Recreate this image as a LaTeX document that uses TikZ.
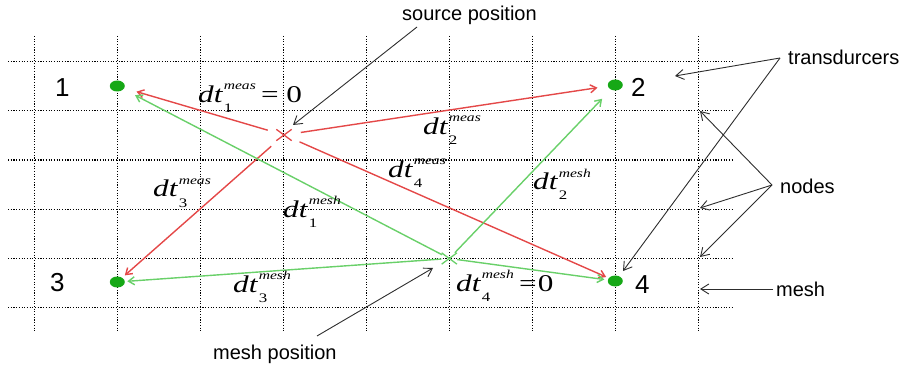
\documentclass[tikz,border=0pt]{standalone}
\usepackage{fontspec}
\setmainfont{Liberation Serif}
\newfontfamily\lsans{Liberation Sans}
\usetikzlibrary{arrows.meta,shapes.misc,shapes.geometric}

\definecolor{redl}{RGB}{228,72,72}
\definecolor{greenl}{RGB}{105,208,105}
\definecolor{dotg}{RGB}{22,168,22}
\definecolor{annot}{RGB}{45,45,45}

% dt label: sub #1, sup #2, trailing material #3 (all stretched horizontally)
\newcommand{\dtlab}[3]{\scalebox{1.3}[1]{{\fontsize{24}{24}\selectfont\itshape dt}\kern1pt\rlap{\raisebox{-10pt}{\fontsize{13}{13}\selectfont #1}}\raisebox{13pt}{\fontsize{12}{12}\selectfont\itshape #2}{\fontsize{24}{24}\selectfont #3}}}

\tikzset{
  gridline/.style={line width=1.2pt, dash pattern=on 1.1pt off 1.6pt, black},
  tdot/.style={ellipse, fill=dotg, minimum width=15pt, minimum height=11pt, inner sep=0pt},
  numlab/.style={font=\lsans\fontsize{26}{26}\selectfont, anchor=base west, inner sep=0pt},
  annlab/.style={font=\lsans\fontsize{20}{20}\selectfont, anchor=base west, inner sep=0pt},
  mathlab/.style={anchor=base west, inner sep=0pt},
  redarrow/.style={draw=redl, line width=1.4pt, -{Straight Barb[length=6pt,width=8pt]}},
  greenarrow/.style={draw=greenl, line width=1.4pt, -{Straight Barb[length=6pt,width=8pt]}},
  annarrow/.style={draw=annot, line width=0.9pt, -{Straight Barb[length=8pt,width=10pt]}},
  crossmark/.style={cross out, draw=#1, line width=1.3pt, minimum width=14pt, minimum height=10pt, inner sep=0pt}
}

\begin{document}
\begin{tikzpicture}[x=1pt,y=-1pt]
\useasboundingbox (0,0) rectangle (905,366);

% mesh grid
\foreach \x in {34.3,117.3,200.3,283.3,366.3,449.3,532.3,615.3,698.3}
  \draw[gridline] (\x,36) -- (\x,331);
\foreach \y in {61.7,110.9,160.1,209.3,258.5,307.7}
  \draw[gridline] (8,\y) -- (733,\y);

% transducers
\node[tdot] (t1) at (117.3,86) {};
\node[tdot] (t2) at (615.3,85) {};
\node[tdot] (t3) at (117.3,282) {};
\node[tdot] (t4) at (615.3,281) {};

\node[numlab] (n1) at (55,97) {1};
\node[numlab] (n2) at (631,97) {2};
\node[numlab] (n3) at (50,291) {3};
\node[numlab] (n4) at (635,293) {4};

% source and mesh positions
\node[crossmark=redl] (src) at (284,135) {};
\node[crossmark=greenl] (msh) at (449.3,258.5) {};

% measured (red)
\draw[redarrow, shorten <=17pt, shorten >=20pt] (src.center) -- (t1.center);
\draw[redarrow, shorten <=17pt, shorten >=18pt] (src.center) -- (t2.center);
\draw[redarrow, shorten <=17pt, shorten >=10pt] (src.center) -- (t3.center);
\draw[redarrow, shorten <=17pt, shorten >=10pt] (src.center) -- (t4.center);

% mesh (green)
\draw[greenarrow, shorten <=8pt, shorten >=20pt] (msh.center) -- (t1.center);
\draw[greenarrow, shorten <=8pt, shorten >=19pt] (msh.center) -- (t2.center);
\draw[greenarrow, shorten <=8pt, shorten >=10pt] (msh.center) -- (t3.center);
\draw[greenarrow, shorten <=8pt, shorten >=11pt] (msh.center) -- (t4.center);

% labels
\node[mathlab] (l1m) at (198,103) {\dtlab{1}{meas}{\,=\hspace{6pt}0}};
\node[mathlab] (l2m) at (423,135) {\dtlab{2}{meas}{}};
\node[mathlab] (l4m) at (388,178) {\dtlab{4}{meas}{}};
\node[mathlab] (l3m) at (153,197) {\dtlab{3}{meas}{}};
\node[mathlab] (l2h) at (533,190) {\dtlab{2}{mesh}{}};
\node[mathlab] (l1h) at (283,218) {\dtlab{1}{mesh}{}};
\node[mathlab] (l3h) at (233,292) {\dtlab{3}{mesh}{}};
\node[mathlab] (l4h) at (456,291) {\dtlab{4}{mesh}{\,=\hspace{1pt}0}};

% annotations
\node[annlab] (sp) at (402,21) {source position};
\node[annlab] (mp) at (213,359) {mesh position};
\node[annlab] (tr) at (788,65) {transdurcers};
\node[annlab] (nd) at (780,194) {nodes};
\node[annlab] (me) at (776,296) {mesh};

\coordinate (spa) at (417,27);
\coordinate (spb) at (293,125);
\coordinate (mpa) at (317,336);
\coordinate (mpb) at (433,268);
\coordinate (tra) at (780,58);
\coordinate (trb) at (675,76);
\coordinate (trc) at (623,271);
\coordinate (nda) at (772,185);
\coordinate (ndb) at (700,111);
\coordinate (ndc) at (700,208);
\coordinate (ndd) at (700,257);
\coordinate (mea) at (773,289);
\coordinate (meb) at (700,289);

\draw[annarrow] (spa) -- (spb);
\draw[annarrow] (mpa) -- (mpb);
\draw[annarrow] (tra) -- (trb);
\draw[annarrow] (tra) -- (trc);
\draw[annarrow] (nda) -- (ndb);
\draw[annarrow] (nda) -- (ndc);
\draw[annarrow] (nda) -- (ndd);
\draw[annarrow] (mea) -- (meb);
\end{tikzpicture}
\end{document}
